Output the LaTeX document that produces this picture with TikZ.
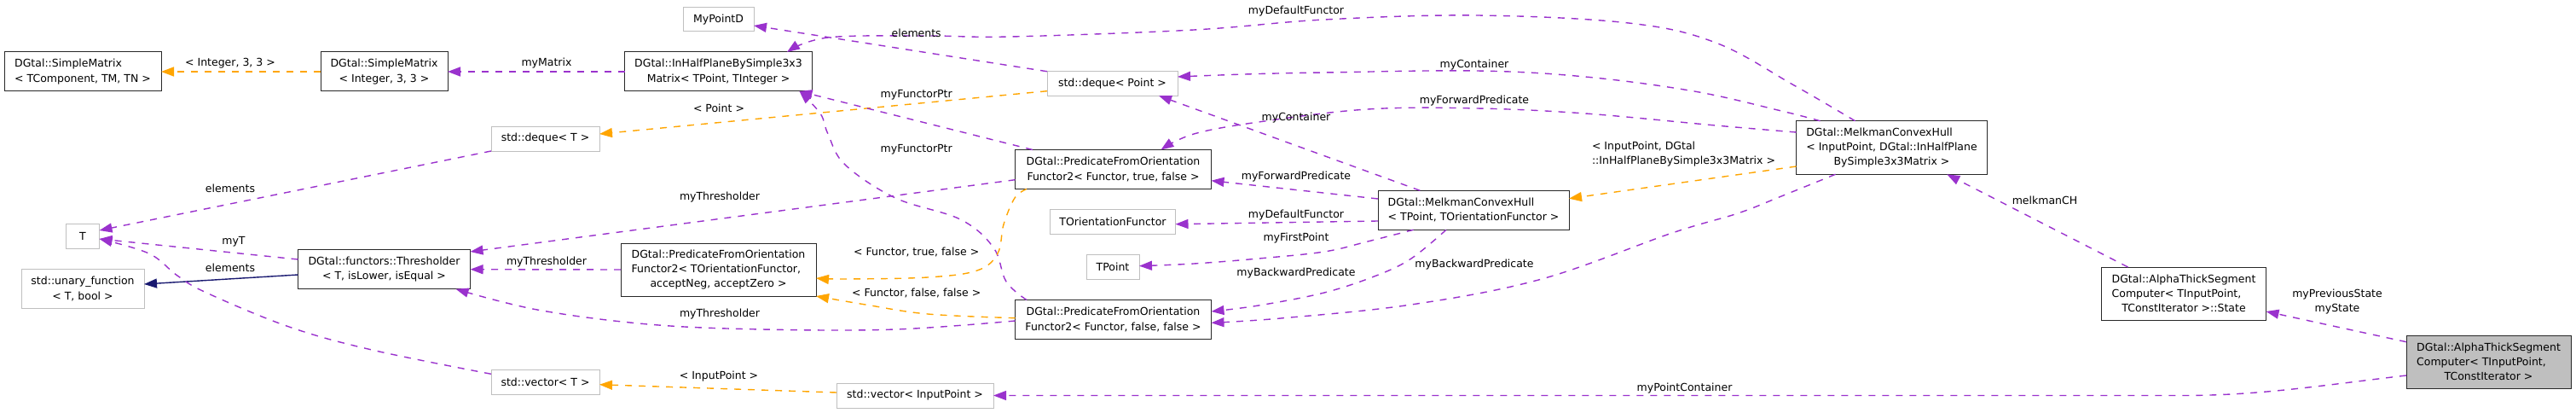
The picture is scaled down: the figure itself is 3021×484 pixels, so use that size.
\documentclass[tikz,border=0pt]{standalone}
\usepackage{fontspec}
\setmainfont{DejaVu Sans}
\usetikzlibrary{arrows.meta}
\definecolor{dorchid}{RGB}{154,50,205}
\definecolor{orng}{RGB}{255,165,0}
\definecolor{mblue}{RGB}{25,25,112}
\definecolor{grey75}{RGB}{191,191,191}
\definecolor{boxline}{RGB}{40,40,40}
\newcommand{\myLft}[2]{\rlap{#1}\phantom{#2}}
\begin{document}
\begin{tikzpicture}[x=1pt,y=-1pt,
  every node/.style={font=\fontsize{12.5pt}{17.3pt}\selectfont, inner sep=0pt, outer sep=0pt},
  cls/.style={draw=boxline, line width=1pt, fill=white, align=center},
  ucls/.style={draw=grey75, line width=1pt, fill=white, align=center},
  cur/.style={draw=boxline, line width=1pt, fill=grey75, align=center},
  uses/.style={draw=dorchid, line width=1.4pt, dash pattern=on 8pt off 8pt, -{Triangle[length=15pt,width=11pt]}},
  tmpl/.style={draw=orng, line width=1.4pt, dash pattern=on 8pt off 8pt, -{Triangle[length=15pt,width=11pt]}},
  inh/.style={draw=mblue, line width=1.4pt, -{Triangle[length=15pt,width=11pt]}},
  lbl/.style={}]
\useasboundingbox (0,0) rectangle (3021,484);

% class nodes
\node[cls, minimum width=184pt, minimum height=46pt] (smT) at (97,84) {\myLft{DGtal::SimpleMatrix}{< TComponent, TM, TN >}\\< TComponent, TM, TN >};
\node[cls, minimum width=149pt, minimum height=46pt] (smI) at (450.5,84) {DGtal::SimpleMatrix\\< Integer, 3, 3 >};
\node[cls, minimum width=220pt, minimum height=46pt] (ihp) at (842.5,84) {DGtal::InHalfPlaneBySimple3x3\\Matrix< TPoint, TInteger >};
\node[ucls, minimum width=83pt, minimum height=28pt] (mpd) at (842.5,23) {MyPointD};
\node[ucls, minimum width=127pt, minimum height=29pt] (dqT) at (639.5,162.5) {std::deque< T >};
\node[ucls, minimum width=39pt, minimum height=28.5pt] (T) at (97,277) {T};
\node[ucls, minimum width=144pt, minimum height=46pt] (uf) at (97,338.5) {std::unary\_function\\< T, bool >};
\node[cls, minimum width=202pt, minimum height=46pt] (thr) at (450.5,315.7) {DGtal::functors::Thresholder\\< T, isLower, isEqual >};
\node[ucls, minimum width=127pt, minimum height=29pt] (vT) at (639.5,447.5) {std::vector< T >};
\node[ucls, minimum width=153pt, minimum height=28.5pt] (dqP) at (1304.5,98) {std::deque< Point >};
\node[cls, minimum width=230pt, minimum height=46pt] (pT) at (1305.5,198.5) {DGtal::PredicateFromOrientation\\Functor2< Functor, true, false >};
\node[cls, minimum width=229pt, minimum height=62pt] (pO) at (842.5,316) {DGtal::PredicateFromOrientation\\\myLft{Functor2< TOrientationFunctor,}{DGtal::PredicateFromOrientation}\\acceptNeg, acceptZero >};
\node[ucls, minimum width=147pt, minimum height=29pt] (tof) at (1305,259.5) {TOrientationFunctor};
\node[ucls, minimum width=62pt, minimum height=28.5pt] (tp) at (1305,313) {TPoint};
\node[cls, minimum width=230pt, minimum height=46pt] (pF) at (1305.5,374.5) {DGtal::PredicateFromOrientation\\Functor2< Functor, false, false >};
\node[ucls, minimum width=184pt, minimum height=29pt] (vIP) at (1073,463.5) {std::vector< InputPoint >};
\node[cls, minimum width=224pt, minimum height=46pt] (mTP) at (1728,246.3) {\myLft{DGtal::MelkmanConvexHull}{< TPoint, TOrientationFunctor >}\\< TPoint, TOrientationFunctor >};
\node[cls, minimum width=224pt, minimum height=62.6pt] (mIP) at (2218.5,173) {\myLft{DGtal::MelkmanConvexHull}{< InputPoint, DGtal::InHalfPlane}\\< InputPoint, DGtal::InHalfPlane\\BySimple3x3Matrix >};
\node[cls, minimum width=193pt, minimum height=62pt] (st) at (2561,344) {DGtal::AlphaThickSegment\\\myLft{Computer< TInputPoint,}{DGtal::AlphaThickSegment}\\TConstIterator >::State};
\node[cur, minimum width=193pt, minimum height=62pt] (at) at (2918.5,424) {DGtal::AlphaThickSegment\\\myLft{Computer< TInputPoint,}{DGtal::AlphaThickSegment}\\TConstIterator >};

% helper coordinates
\coordinate (e14s) at ([xshift=-43pt]mIP.north);
\coordinate (e14t) at ([xshift=80.5pt]ihp.north);
\coordinate (ihpB) at ([xshift=95pt]ihp.south);
\coordinate (e10s) at ([yshift=-1.5pt]pF.west);
\coordinate (e10t) at ([xshift=-17pt]thr.south east);
\coordinate (e11s) at ([xshift=-101.5pt]pF.north);
\coordinate (e20s) at ([xshift=-70.4pt]mTP.south);
\coordinate (e20t) at ([yshift=1.3pt]tp.east);
\coordinate (e21s) at ([xshift=-32pt]mTP.south);
\coordinate (e21t) at ([yshift=9.5pt]pF.east);
\coordinate (e22s) at ([xshift=-66pt]mIP.south);
\coordinate (e22t) at ([yshift=-3.8pt]pF.east);
\coordinate (e28s) at ([xshift=-101.5pt]pT.south);
\coordinate (e28t) at ([yshift=-10pt]pO.east);
\coordinate (e29s) at ([yshift=1.8pt]pF.west);
\coordinate (e15s) at ([xshift=-84pt]mIP.north);
\coordinate (e15t) at ([yshift=8pt]dqP.east);
\coordinate (e16s) at ([yshift=18pt]mIP.west);
\coordinate (e16t) at ([xshift=56pt]pT.north);
\coordinate (e6s) at ([yshift=9.2pt]vT.west);
\coordinate (Tin) at ([yshift=-3pt]T.east);

% straight connectors
\draw[tmpl] (smI.west) -- (smT.east);
\draw[uses] (ihp.west) -- (smI.east);
\draw[tmpl] ([yshift=-8.7pt]dqP.west) -- ([yshift=5.5pt]dqT.east);
\draw[uses] (dqT.south west) -- ([yshift=7pt]T.east);
\draw[uses] ([yshift=11.7pt]thr.west) -- (Tin);
\draw[inh] ([yshift=-6.3pt]thr.west) -- ([yshift=5.5pt]uf.east);
\draw[uses] ([yshift=-12.2pt]pT.west) -- ([yshift=20.7pt]thr.east);
\draw[uses] (pO.west) -- (thr.east);
\draw[uses] ([xshift=-94.5pt]pT.north) -- (ihpB);
\draw[uses] (dqP.north west) -- ([yshift=-7pt]mpd.east);
\draw[uses] ([xshift=-62.7pt]mTP.north) -- ([xshift=54.5pt]dqP.south);
\draw[uses] ([yshift=13.3pt]mTP.west) -- ([yshift=-13.2pt]pT.east);
\draw[uses] ([yshift=-12.7pt]mTP.west) -- ([yshift=-3.2pt]tof.east);
\draw[tmpl] ([yshift=-22pt]mIP.west) -- ([yshift=13.6pt]mTP.east);
\draw[uses] ([xshift=-65.5pt]st.north) -- ([xshift=64.8pt]mIP.south);
\draw[uses] ([yshift=23.3pt]at.west) -- ([yshift=-21pt]st.east);
\draw[tmpl] ([yshift=3.5pt]vIP.west) -- ([yshift=-3.2pt]vT.east);
\draw[uses] ([yshift=-16pt]at.west) .. controls (2720,452) and (2650,463.5) .. (2560,463.5) -- (vIP.east);

% curved connectors
\draw[uses] plot[smooth, tension=0.6] coordinates {(e14s) (2104,100) (2012,50) (1910,27) (1732,18) (1553,23) (1400,35) (1185,43) (1088,42) (971,44) (e14t)};
\draw[uses] plot[smooth, tension=0.6] coordinates {(e10s) (1050,386) (894,386) (760,380) (630,363) (e10t)};
\draw[uses] plot[smooth, tension=0.6] coordinates {(e11s) (1180,330) (1165,290) (1126,257) (1050,232) (991,193) (971,157) (962,133) (ihpB)};
\draw[uses] plot[smooth, tension=0.6] coordinates {(e20s) (1604,283) (1553,295) (1476,303) (1400,309) (e20t)};
\draw[uses] plot[smooth, tension=0.6] coordinates {(e21s) (1655,303) (1614,323) (1553,343) (1476,358) (e21t)};
\draw[uses] plot[smooth, tension=0.6] coordinates {(e22s) (2089,230) (2038,250) (1961,273) (1808,327) (1655,357) (1502,373) (e22t)};
\draw[tmpl] plot[smooth, tension=0.6] coordinates {(e28s) (1190,232) (1177,263) (1170,297) (1146,317) (1088,325) (991,327) (e28t)};
\draw[tmpl] plot[smooth, tension=0.6] coordinates {(e29s) (1088,368) (1015,357) (pO.south east)};
\draw[uses] plot[smooth, tension=0.6] coordinates {(e15s) (2089,130) (1987,107) (1859,90) (1732,83) (1553,85) (1460,87) (e15t)};
\draw[uses] plot[smooth, tension=0.6] coordinates {(e16s) (2012,147) (1859,133) (1732,127) (1604,128) (1476,143) (1400,157) (e16t)};
\draw[uses] plot[smooth, tension=0.6] coordinates {(e6s) (436,410) (339,383) (242,343) (208,323) (174.5,297) (Tin)};

% edge labels
\node[lbl] (l1) at (270,74) {< Integer, 3, 3 >};
\node[lbl] (l2) at (641,74) {myMatrix};
\node[lbl] (l3) at (1074.7,39) {elements};
\node[lbl] (l4) at (1520,12.7) {myDefaultFunctor};
\node[lbl] (l5) at (843,127) {< Point >};
\node[lbl] (l6) at (270,221) {elements};
\node[lbl] (l7) at (1074.7,111.7) {myFunctorPtr};
\node[lbl] (l8) at (1074.7,175.7) {myFunctorPtr};
\node[lbl] (l9) at (844,231) {myThresholder};
\node[lbl] (l10) at (274,283) {myT};
\node[lbl] (l11) at (270,314) {elements};
\node[lbl] (l12) at (641,306.7) {myThresholder};
\node[lbl] (l13) at (1074.7,295.7) {< Functor, true, false >};
\node[lbl] (l14) at (1074.7,343.3) {< Functor, false, false >};
\node[lbl] (l15) at (844,367.7) {myThresholder};
\node[lbl] (l16) at (843,440.7) {< InputPoint >};
\node[lbl] (l17) at (1729,76) {myContainer};
\node[lbl] (l18) at (1729,118) {myForwardPredicate};
\node[lbl] (l19) at (1520,138) {myContainer};
\node[lbl] (l20) at (1520,206.7) {myForwardPredicate};
\node[lbl] (l21) at (1520,251.7) {myDefaultFunctor};
\node[lbl] (l22) at (1520,279) {myFirstPoint};
\node[lbl] (l23) at (1520,320) {myBackwardPredicate};
\node[lbl] (l24) at (1729,310) {myBackwardPredicate};
\node[lbl, align=left, anchor=west] (l25) at (1867,180.5) {< InputPoint, DGtal\\::InHalfPlaneBySimple3x3Matrix >};
\node[lbl] (l26) at (1975.5,455) {myPointContainer};
\node[lbl] (l27) at (2398,235) {melkmanCH};
\node[lbl, align=center] (l28) at (2741,353.5) {myPreviousState\\myState};
\end{tikzpicture}
\end{document}
